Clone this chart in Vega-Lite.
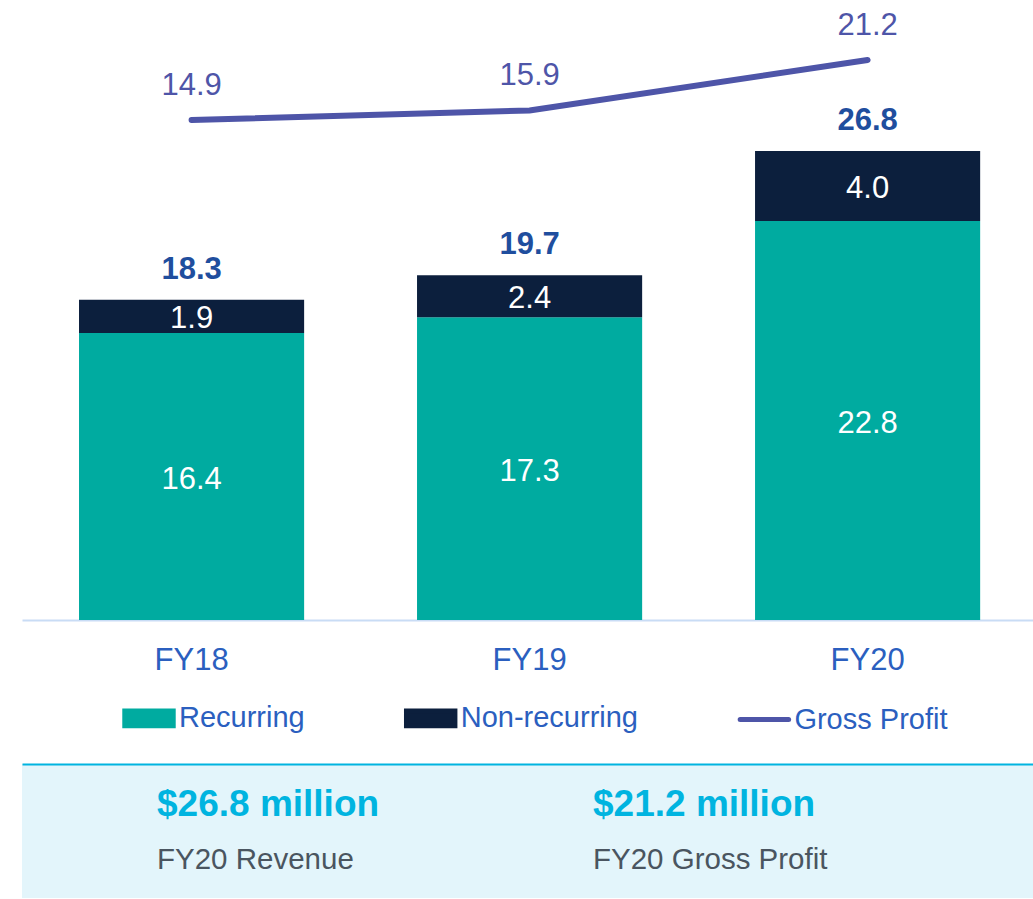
{
  "$schema": "https://vega.github.io/schema/vega-lite/v6.json",
  "background": "white",
  "padding": {"left": 22, "top": 0, "right": 0, "bottom": 0},
  "spacing": 89,
  "config": {"view": {"stroke": null}, "font": "Liberation Sans"},
  "datasets": {
    "revenue": [
      {"year": "FY18", "series": "Recurring", "value": 16.4},
      {"year": "FY18", "series": "Non-recurring", "value": 1.9},
      {"year": "FY19", "series": "Recurring", "value": 17.3},
      {"year": "FY19", "series": "Non-recurring", "value": 2.4},
      {"year": "FY20", "series": "Recurring", "value": 22.8},
      {"year": "FY20", "series": "Non-recurring", "value": 4.0}
    ],
    "gross": [
      {"year": "FY18", "series": "Gross Profit", "value": 14.9},
      {"year": "FY19", "series": "Gross Profit", "value": 15.9},
      {"year": "FY20", "series": "Gross Profit", "value": 21.2}
    ],
    "summary": [
      {"column": "Revenue", "row": "value", "text": "$26.8 million"},
      {"column": "Revenue", "row": "label", "text": "FY20 Revenue"},
      {"column": "Gross Profit", "row": "value", "text": "$21.2 million"},
      {"column": "Gross Profit", "row": "label", "text": "FY20 Gross Profit"}
    ]
  },
  "vconcat": [
    {
      "width": 1011,
      "height": 620,
      "encoding": {
        "x": {
          "field": "year", "type": "nominal",
          "scale": {"paddingInner": 0.334, "paddingOuter": 0.1625, "align": 0.519},
          "axis": {"title": null, "labelAngle": 0, "ticks": false, "tickSize": 0, "labelPadding": 25,
                   "labelFontSize": 31, "labelColor": "#2b5fbf", "labelFont": "Liberation Sans",
                   "domainColor": "#c9dcf5", "domainWidth": 2, "grid": false}
        }
      },
      "layer": [
        {
          "data": {"name": "revenue"},
          "mark": {"type": "bar"},
          "encoding": {
            "y": {"field": "value", "type": "quantitative", "stack": "zero",
                  "scale": {"domain": [0, 35.43], "nice": false, "zero": false}, "axis": null},
            "color": {
              "field": "series", "type": "nominal",
              "scale": {"domain": ["Recurring", "Non-recurring", "Gross Profit"],
                        "range": ["#00aba0", "#0c1f3d", "#4e55a8"]},
              "legend": {
                "orient": "none", "legendX": 100, "legendY": 691, "direction": "horizontal",
                "title": null, "padding": 0,
                "labelFontSize": 29, "labelFont": "Liberation Sans", "labelColor": "#2b5fbf",
                "labelOffset": 3, "labelLimit": 400,
                "symbolSize": 2346, "symbolStrokeWidth": 5, "columnPadding": 90.7,
                "symbolType": "M-1,-0.3H1V0.3H-1Z",
                "encode": {
                  "symbols": {
                    "enter": {
                      "stroke": {"signal": "datum.value === 'Gross Profit' ? '#2e2a80' : 'transparent'"}
                    },
                    "update": {
                      "shape": {"signal": "datum.value === 'Gross Profit' ? 'stroke' : 'M-1,-0.3H1V0.3H-1Z'"},
                      "fill": {"signal": "datum.value === 'Recurring' ? '#00aba0' : datum.value === 'Non-recurring' ? '#0c1f3d' : 'transparent'"},
                      "stroke": {"signal": "datum.value === 'Gross Profit' ? '#2e2a80' : 'transparent'"},
                      "strokeWidth": {"value": 5},
                      "strokeCap": {"value": "round"},
                      "opacity": {"value": 1}
                    }
                  }
                }
              }
            },
            "order": {"field": "series", "sort": "descending"}
          }
        },
        {
          "data": {"name": "revenue"},
          "transform": [
            {"stack": "value", "groupby": ["year"], "sort": [{"field": "series", "order": "descending"}], "as": ["v0", "v1"]},
            {"calculate": "(datum.v0 + datum.v1) / 2", "as": "mid"}
          ],
          "mark": {"type": "text", "fontSize": 31, "color": "#ffffff", "baseline": "middle", "dy": 3},
          "encoding": {
            "y": {"field": "mid", "type": "quantitative",
                  "scale": {"domain": [0, 35.43], "nice": false, "zero": false}, "axis": null},
            "text": {"field": "value", "type": "quantitative", "format": ".1f"}
          }
        },
        {
          "data": {"name": "revenue"},
          "transform": [
            {"aggregate": [{"op": "sum", "field": "value", "as": "total"}], "groupby": ["year"]}
          ],
          "mark": {"type": "text", "fontSize": 31, "fontWeight": "bold", "color": "#1f4e9e", "baseline": "bottom", "dy": -14},
          "encoding": {
            "y": {"field": "total", "type": "quantitative",
                  "scale": {"domain": [0, 35.43], "nice": false, "zero": false}, "axis": null},
            "text": {"field": "total", "type": "quantitative", "format": ".1f"}
          }
        },
        {
          "data": {"name": "gross"},
          "mark": {"type": "line", "strokeWidth": 6, "strokeCap": "round"},
          "encoding": {
            "y": {"field": "value", "type": "quantitative",
                  "scale": {"domain": [-37.6, 27.5], "nice": false, "zero": false}, "axis": null},
            "color": {"field": "series", "type": "nominal"}
          }
        },
        {
          "data": {"name": "gross"},
          "mark": {"type": "text", "fontSize": 31, "color": "#4e55a8", "baseline": "middle", "dy": -34},
          "encoding": {
            "y": {"field": "value", "type": "quantitative",
                  "scale": {"domain": [-37.6, 27.5], "nice": false, "zero": false}, "axis": null},
            "text": {"field": "value", "type": "quantitative", "format": ".1f"}
          }
        }
      ],
      "resolve": {"scale": {"y": "independent"}}
    },
    {
      "width": 1011,
      "height": 134,
      "view": {"fill": "#e3f5fb", "stroke": null},
      "data": {"name": "summary"},
      "encoding": {
        "x": {"field": "column", "type": "nominal", "sort": ["Revenue", "Gross Profit"],
              "scale": {"type": "point", "padding": 0.6594, "align": 0.2348},
              "axis": {"orient": "top", "domainColor": "#00b4e0", "domainWidth": 2, "ticks": false,
                       "labels": false, "title": null, "grid": false}},
        "y": {"field": "row", "type": "nominal", "sort": ["value", "label"],
              "scale": {"type": "point", "padding": 0.718, "align": 0.515}, "axis": null}
      },
      "layer": [
        {
          "transform": [{"filter": "datum.row === 'value'"}],
          "mark": {"type": "text", "align": "left", "baseline": "middle", "fontSize": 37, "fontWeight": "bold", "color": "#00b4e0"},
          "encoding": {"text": {"field": "text"}}
        },
        {
          "transform": [{"filter": "datum.row === 'label'"}],
          "mark": {"type": "text", "align": "left", "baseline": "middle", "fontSize": 29.5, "color": "#4a5560"},
          "encoding": {"text": {"field": "text"}}
        }
      ]
    }
  ]
}
